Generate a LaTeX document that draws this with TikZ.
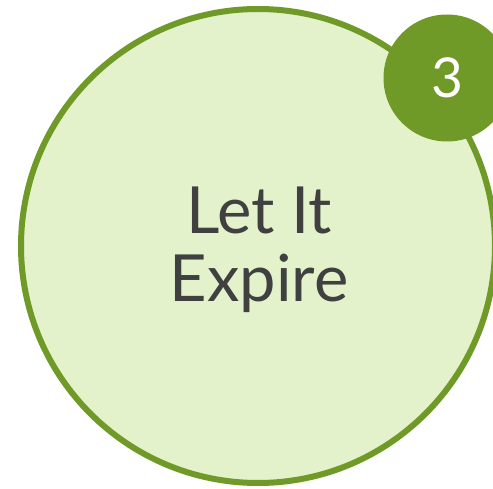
\documentclass[tikz,border=0pt]{standalone}
\usepackage{fontspec}
\setmainfont{Lato}
\usetikzlibrary{positioning}

\definecolor{leafgreen}{HTML}{6F9A27}
\definecolor{paleleaf}{HTML}{E4F2CB}
\definecolor{inkgray}{HTML}{404040}

\begin{document}
\begin{tikzpicture}[x=1pt, y=1pt,
  % === Node styles ===
  bigdisc/.style={
    circle, draw=leafgreen, fill=paleleaf,
    line width=6pt, minimum size=474pt, inner sep=0pt
  },
  badge/.style={
    circle, fill=leafgreen, minimum size=127pt, inner sep=0pt,
    text=white, font=\fontsize{55}{60}\selectfont
  },
  title/.style={
    align=center, text=inkgray,
    font=\fontsize{65}{68}\selectfont
  },
]

% =============================================
% Canvas
% =============================================
\useasboundingbox (0, 0) rectangle (493, 488);

% =============================================
% Main disc and its text
% =============================================
\node[bigdisc] (disc) at (258, 242) {};
\node[title] (name) at (259, 238) {Let It\\Expire};

% =============================================
% Number badge (top right)
% =============================================
\node[badge] (num) at (447, 410) {3};

\end{tikzpicture}
\end{document}
